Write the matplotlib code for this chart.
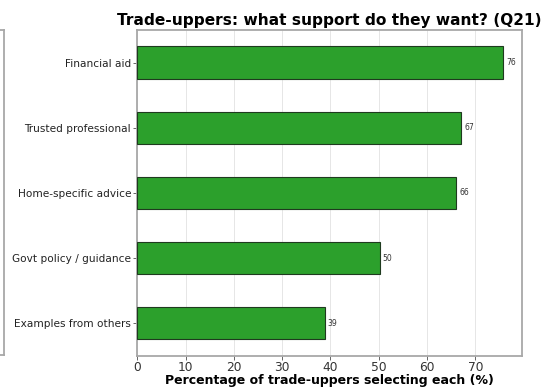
import matplotlib
matplotlib.use("Agg")
import matplotlib.pyplot as plt
import numpy as np

# Support types (top to bottom) and share of trade-uppers selecting each
categories = [
    "Financial aid",
    "Trusted professional",
    "Home-specific advice",
    "Govt policy / guidance",
    "Examples from others",
]
percentages = [75.8, 67.1, 66.1, 50.2, 38.8]
tick_values = [0, 10, 20, 30, 40, 50, 60, 70]

TITLE = "Trade-uppers: what support do they want? (Q21)"
XLABEL = "Percentage of trade-uppers selecting each (%)"

SPINE_GREY = "#a8a8a8"
BAR_GREEN = "#2ca02c"

fig = plt.figure(figsize=(5.45, 3.87), dpi=100)
ax = fig.add_axes([0.252, 0.081, 0.705, 0.841])

# neighbouring panel, only its right edge shows in the crop
nb = fig.add_axes([-0.6, 0.082, 0.6065, 0.841])
nb.set_xticks([])
nb.set_yticks([])
for s in nb.spines.values():
    s.set_color(SPINE_GREY)
    s.set_linewidth(1.3)

y = np.arange(len(categories))
bars = ax.barh(y, percentages, height=0.5, color=BAR_GREEN,
               edgecolor="#1f3a1f", linewidth=0.8, zorder=3)
ax.set_yticks(y)
ax.set_yticklabels(categories, fontsize=7.6, color="#222222")
ax.set_xticks(tick_values)
ax.set_xticklabels([str(t) for t in tick_values], fontsize=8.8, color="#333333")
ax.set_xlim(0, max(percentages) * 1.05)
ax.set_ylim(len(categories) - 0.5, -0.5)

for b, v in zip(bars, percentages):
    ax.text(b.get_width() + 0.6, b.get_y() + b.get_height() / 2, f"{v:.0f}",
            va="center", ha="left", fontsize=5.5, color="#333333")

ax.grid(axis="x", color="#e6e6e6", linewidth=0.7, zorder=0)
ax.set_axisbelow(True)
for s in ax.spines.values():
    s.set_color(SPINE_GREY)
    s.set_linewidth(1.3)
ax.tick_params(axis="both", color="#666666", length=3, width=0.7, pad=1.5)
ax.tick_params(axis="x", pad=1)

ax.set_title(TITLE, fontsize=11.1, fontweight="bold", pad=4)
ax.set_xlabel(XLABEL, fontsize=9, fontweight="bold", labelpad=0.2)

fig.savefig("out.png", dpi=100)
